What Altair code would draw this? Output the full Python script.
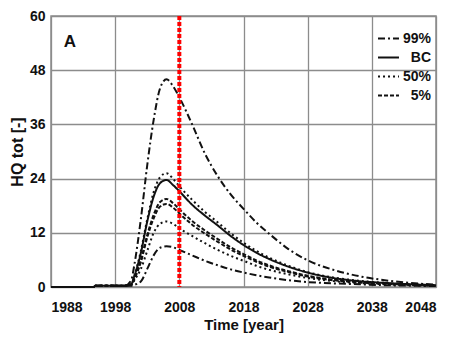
import altair as alt
import pandas as pd

# ---- data ----
years = [1988, 1994.7, 1994.9, 1999.5, 2000.5, 2001, 2002, 2003, 2004, 2005, 2006,
         2007, 2008, 2010, 2012, 2014, 2016, 2018, 2020, 2022, 2025, 2028, 2032,
         2036, 2040, 2044, 2048]

hi99 = [0, 0, 0.3, 0.3, 1.5, 5, 15, 27, 37, 44, 46, 44.5, 42, 36, 29.5, 24.5, 20.5,
        17.3, 14.3, 11.8, 8.4, 5.9, 3.8, 2.4, 1.5, 0.9, 0.5]
bc = [0, 0, 0.3, 0.3, 0.6, 2.5, 7.5, 14.5, 20, 23, 23.7, 22.6, 21.2, 18.2, 15.8, 13.6,
      11.3, 9.3, 7.6, 6.2, 4.5, 3.2, 2.0, 1.3, 0.9, 0.6, 0.4]
p50_hi = [0, 0, 0.3, 0.3, 0.6, 2.5, 8, 15, 21, 24.3, 25.2, 24, 22.3, 19.3, 16.6, 14.3,
          11.9, 9.8, 8.0, 6.5, 4.7, 3.3, 2.1, 1.4, 0.9, 0.6, 0.4]
p5_a = [0, 0, 0.3, 0.3, 0.5, 2, 6, 11.5, 16, 18.8, 19.5, 18.6, 17.2, 14.6, 12.5, 10.6,
        8.8, 7.3, 5.9, 4.8, 3.5, 2.5, 1.6, 1.1, 0.8, 0.5, 0.3]
p5_b = [0, 0, 0.3, 0.3, 0.5, 1.8, 5.5, 11, 15.2, 17.8, 18.4, 17.6, 16.3, 13.8, 11.8,
        10.0, 8.3, 6.9, 5.6, 4.5, 3.3, 2.3, 1.5, 1.0, 0.7, 0.5, 0.3]
p50_lo = [0, 0, 0.3, 0.3, 0.4, 1.5, 4, 8, 12, 14, 14.5, 14, 13, 11.3, 9.7, 8.2, 6.9,
          5.8, 4.7, 3.8, 2.8, 2.0, 1.3, 0.9, 0.6, 0.4, 0.3]
lo = [0, 0, 0.3, 0.3, 0.3, 0.5, 1.2, 4, 7, 8.7, 9, 8.8, 8.2, 7.0, 5.8, 4.8, 3.9, 3.2,
      2.6, 2.1, 1.5, 1.1, 0.8, 0.6, 0.4, 0.3, 0.2]

series_values = {"hi99": hi99, "bc": bc, "p50_hi": p50_hi, "p5_a": p5_a,
                 "p5_b": p5_b, "p50_lo": p50_lo, "lo": lo}
series_style = {"hi99": "99%", "bc": "BC", "p50_hi": "50%", "p5_a": "5%",
                "p5_b": "5%", "p50_lo": "50%", "lo": "99%"}
legend_labels = ["99%", "BC", "50%", "5%"]
x_ticks = [1988, 1998, 2008, 2018, 2028, 2038, 2048]
y_ticks = [0, 12, 24, 36, 48, 60]
marker_year = [2008]

rows = []
for name, vals in series_values.items():
    for yr, v in zip(years, vals):
        rows.append({"year": yr, "hq": v, "series": name, "style": series_style[name]})
df = pd.DataFrame(rows)

FONT = "Liberation Sans, Arial, sans-serif"

x_enc = alt.X("year:Q", scale=alt.Scale(domain=[1988, 2048], nice=False),
              axis=alt.Axis(values=x_ticks, format="d", title="Time [year]",
                            labelPadding=13, titlePadding=3, titleFontSize=15))
y_enc = alt.Y("hq:Q", scale=alt.Scale(domain=[0, 60], nice=False),
              axis=alt.Axis(values=y_ticks, title="HQ tot [-]",
                            labelPadding=6, titlePadding=4, titleFontSize=16))

lines = alt.Chart(df).mark_line(color="#111111", strokeWidth=2, interpolate="monotone").encode(
    x=x_enc,
    y=y_enc,
    detail="series:N",
    strokeDash=alt.StrokeDash(
        "style:N",
        sort=legend_labels,
        scale=alt.Scale(domain=legend_labels,
                        range=[[7, 3, 2, 3], [1, 0], [2, 3], [4, 2]]),
        legend=alt.Legend(title=None, orient="none", legendX=326, legendY=11,
                          symbolType="stroke", symbolSize=440, symbolStrokeWidth=2,
                          symbolStrokeColor="#111111", padding=0,
                          labelFontSize=14, labelFont=FONT, labelFontWeight="bold",
                          labelColor="#111111", rowPadding=0, labelOffset=31,
                          labelAlign="right"),
    ),
)

marker = alt.Chart(pd.DataFrame({"year": marker_year})).mark_rule(
    color="#ff0000", strokeWidth=4, strokeDash=[4, 2]
).encode(x="year:Q")

panel = alt.Chart(pd.DataFrame({"t": ["A"]})).mark_text(
    fontSize=17, fontWeight="bold", font=FONT, color="#111111"
).encode(text="t:N", x=alt.value(19), y=alt.value(26))

chart = alt.layer(lines, marker, panel).properties(
    width=385, height=271,
    autosize=alt.AutoSizeParams(type="none"),
    padding={"left": 43, "top": 8, "right": 5, "bottom": 47},
).configure_view(
    stroke="#8c8c8c", strokeWidth=1.5
).configure_axis(
    grid=True, gridColor="#8c8c8c", gridWidth=1.3, domain=False, ticks=False,
    labelFont=FONT, labelFontSize=14, labelFontWeight="bold", labelColor="#111111",
    titleFont=FONT, titleFontWeight="bold", titleColor="#111111",
)

chart.save("out.html", embed_options={"renderer": "svg", "actions": False})
